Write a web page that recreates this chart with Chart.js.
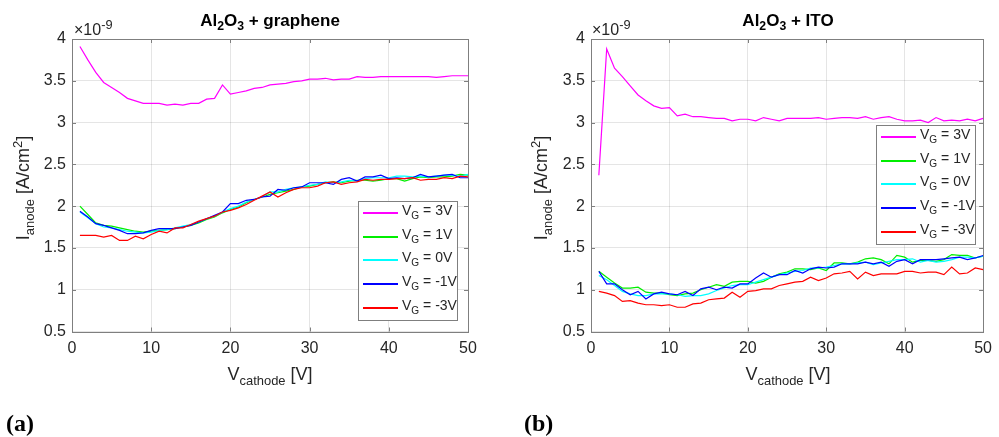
<!DOCTYPE html>
<html>
<head>
<meta charset="utf-8">
<script src="https://cdn.jsdelivr.net/npm/chart.js@4"></script>
<style>
  body { margin: 0; background: #fff; width: 999px; height: 437px; position: relative; overflow: hidden;
         font-family: "Liberation Sans", Arial, sans-serif; color: #262626; }
  .wrap { position: absolute; top: 0; height: 437px; }
  .lbl { position: absolute; white-space: nowrap; line-height: 1; }
  .lbl sub, .lbl sup { font-size: 0.72em; line-height: 0; }
  .title { font-weight: bold; font-size: 17px; color: #000; transform: translateX(-50%); }
  .xlab { font-size: 18px; transform: translateX(-50%); }
  .ylab { font-size: 18px; transform: translate(-50%, -50%) rotate(-90deg); }
  .exp { font-size: 16px; }
  .exp sup { font-size: 0.8em; }
  .panel { font-family: "Liberation Serif", "Times New Roman", serif; font-weight: bold; font-size: 24px; color: #000; }
  .legend { position: absolute; background: #fff; border: 1px solid #7f7f7f; box-sizing: border-box; }
  .legend .row { position: absolute; left: 0; height: 20px; }
  .legend .sample { position: absolute; left: 4px; width: 35px; top: 0; height: 1.5px; }
  .legend .txt { position: absolute; left: 43px; top: -9px; font-size: 14px; line-height: 1; white-space: nowrap; color: #262626; }
  .legend .txt sub { font-size: 0.72em; line-height: 0; }
</style>
</head>
<body>
<div class="wrap" id="wa" style="left:0;width:500px"><canvas id="chartA" width="500" height="437"></canvas></div>
<div class="wrap" id="wb" style="left:500px;width:499px"><canvas id="chartB" width="499" height="437"></canvas></div>

<div class="lbl title" style="left:270px;top:12px">Al<sub>2</sub>O<sub>3</sub> + graphene</div>
<div class="lbl title" style="left:788px;top:12px">Al<sub>2</sub>O<sub>3</sub> + ITO</div>
<div class="lbl exp" style="left:74px;top:22px">&times;10<sup>-9</sup></div>
<div class="lbl exp" style="left:592px;top:22px">&times;10<sup>-9</sup></div>
<div class="lbl xlab" style="left:270px;top:365px">V<sub>cathode</sub> [V]</div>
<div class="lbl xlab" style="left:788px;top:365px">V<sub>cathode</sub> [V]</div>
<div class="lbl ylab" style="left:23px;top:188px">I<sub>anode</sub> [A/cm<sup>2</sup>]</div>
<div class="lbl ylab" style="left:541px;top:188px">I<sub>anode</sub> [A/cm<sup>2</sup>]</div>
<div class="lbl panel" style="left:6px;top:411px">(a)</div>
<div class="lbl panel" style="left:524px;top:411px">(b)</div>
<div class="legend" id="legA" style="left:358px;top:201px;width:100px;height:120px"></div>
<div class="legend" id="legB" style="left:876px;top:125px;width:100px;height:120px"></div>

<script>
// x values: cathode voltage [V]
const vCathode = [1,2,3,4,5,6,7,8,9,10,11,12,13,14,15,16,17,18,19,20,
  21,22,23,24,25,26,27,28,29,30,31,32,33,34,35,36,37,38,39,40,
  41,42,43,44,45,46,47,48,49,50];

const seriesNames = ["3V", "1V", "0V", "-1V", "-3V"];
const seriesColors = ["#ff00ff", "#00ee00", "#00ffff", "#0000ff", "#ff0000"];

const xTicks = [0, 10, 20, 30, 40, 50];
const yTicks = [0.5, 1, 1.5, 2, 2.5, 3, 3.5, 4];

// (a) Al2O3 + graphene, I_anode in 1e-9 A/cm^2
const graphene3V = [3.91,3.75,3.60,3.48,3.42,3.36,3.29,3.26,3.23,3.23,
  3.23,3.21,3.22,3.21,3.23,3.23,3.28,3.29,3.45,3.34,
  3.36,3.38,3.41,3.42,3.45,3.46,3.47,3.49,3.50,3.52,
  3.52,3.53,3.51,3.52,3.52,3.55,3.54,3.54,3.55,3.55,
  3.55,3.55,3.55,3.55,3.55,3.54,3.55,3.56,3.56,3.56];
const graphene1V = [2.00,1.90,1.80,1.77,1.76,1.74,1.72,1.70,1.69,1.70,
  1.71,1.72,1.73,1.75,1.77,1.80,1.84,1.87,1.92,1.96,
  1.99,2.04,2.08,2.11,2.14,2.16,2.18,2.20,2.23,2.24,
  2.26,2.28,2.29,2.28,2.30,2.31,2.31,2.30,2.31,2.33,
  2.33,2.30,2.33,2.35,2.34,2.35,2.35,2.36,2.38,2.37];
const graphene0V = [1.93,1.86,1.79,1.75,1.74,1.72,1.70,1.69,1.68,1.69,
  1.71,1.72,1.74,1.76,1.78,1.81,1.85,1.88,1.93,1.97,
  2.00,2.05,2.08,2.11,2.17,2.17,2.20,2.22,2.23,2.25,
  2.26,2.29,2.28,2.29,2.31,2.30,2.33,2.34,2.34,2.34,
  2.36,2.36,2.35,2.36,2.35,2.36,2.37,2.37,2.36,2.38];
const grapheneM1V = [1.94,1.87,1.79,1.77,1.74,1.71,1.67,1.67,1.68,1.71,
  1.73,1.73,1.73,1.75,1.77,1.81,1.85,1.89,1.93,2.03,
  2.03,2.07,2.08,2.11,2.12,2.20,2.19,2.22,2.23,2.28,
  2.28,2.28,2.26,2.32,2.34,2.30,2.35,2.35,2.37,2.33,
  2.34,2.33,2.34,2.38,2.35,2.36,2.37,2.38,2.34,2.34];
const grapheneM3V = [1.65,1.65,1.65,1.63,1.65,1.59,1.59,1.64,1.61,1.66,
  1.70,1.68,1.74,1.74,1.78,1.82,1.85,1.88,1.93,1.95,
  1.98,2.02,2.07,2.12,2.17,2.11,2.16,2.20,2.22,2.22,
  2.24,2.28,2.29,2.26,2.28,2.29,2.32,2.31,2.32,2.32,
  2.33,2.33,2.34,2.31,2.32,2.32,2.34,2.33,2.36,2.35];

// (b) Al2O3 + ITO
const ito3V = [2.37,3.88,3.65,3.55,3.44,3.33,3.26,3.20,3.17,3.18,
  3.08,3.10,3.07,3.07,3.06,3.05,3.05,3.02,3.04,3.04,
  3.02,3.06,3.04,3.02,3.05,3.05,3.05,3.05,3.06,3.04,
  3.05,3.06,3.06,3.05,3.07,3.04,3.06,3.07,3.04,3.02,
  3.02,3.03,3.00,3.06,3.02,3.03,3.02,3.04,3.02,3.05];
const ito1V = [1.22,1.15,1.08,1.02,1.02,1.03,0.97,0.96,0.96,0.94,
  0.93,0.95,0.96,1.00,1.03,1.06,1.04,1.09,1.10,1.10,
  1.08,1.10,1.15,1.19,1.21,1.25,1.25,1.24,1.26,1.23,
  1.32,1.32,1.31,1.33,1.37,1.38,1.36,1.31,1.41,1.39,
  1.33,1.35,1.35,1.34,1.36,1.42,1.41,1.41,1.38,1.40];
const ito0V = [1.17,1.12,1.05,0.98,0.95,0.93,0.93,0.95,0.95,0.95,
  0.94,0.92,0.93,0.93,0.95,0.99,1.02,1.05,1.06,1.06,
  1.09,1.12,1.15,1.18,1.20,1.22,1.23,1.26,1.26,1.27,
  1.29,1.31,1.31,1.32,1.33,1.30,1.32,1.34,1.36,1.36,
  1.37,1.33,1.35,1.33,1.34,1.36,1.39,1.39,1.38,1.40];
const itoM1V = [1.22,1.07,1.07,1.00,0.94,0.98,0.89,0.95,0.97,0.95,
  0.94,0.98,0.93,1.01,1.03,1.00,1.03,1.02,1.07,1.07,
  1.14,1.20,1.15,1.18,1.18,1.23,1.20,1.25,1.27,1.26,
  1.27,1.31,1.31,1.31,1.33,1.31,1.33,1.28,1.34,1.36,
  1.31,1.36,1.36,1.36,1.37,1.38,1.39,1.36,1.38,1.41];
const itoM3V = [0.98,0.96,0.93,0.86,0.87,0.84,0.82,0.82,0.81,0.82,
  0.79,0.79,0.83,0.84,0.88,0.89,0.90,0.97,0.91,0.98,
  0.99,1.01,1.01,1.05,1.07,1.09,1.10,1.15,1.11,1.14,
  1.19,1.20,1.22,1.13,1.21,1.17,1.19,1.19,1.19,1.22,
  1.22,1.20,1.21,1.21,1.18,1.27,1.19,1.20,1.26,1.24];

const grapheneData = [graphene3V, graphene1V, graphene0V, grapheneM1V, grapheneM3V];
const itoData = [ito3V, ito1V, ito0V, itoM1V, itoM3V];

// MATLAB-like box with inward ticks on all sides
const boxPlugin = {
  id: "box",
  afterDraw(chart) {
    const { ctx, chartArea: a, scales } = chart;
    ctx.save();
    ctx.strokeStyle = "#7f7f7f";
    ctx.lineWidth = 1;
    ctx.beginPath();
    scales.x.ticks.forEach((t) => {
      const px = Math.round(scales.x.getPixelForValue(t.value)) + 0.5;
      ctx.moveTo(px, a.bottom); ctx.lineTo(px, a.bottom - 4);
      ctx.moveTo(px, a.top); ctx.lineTo(px, a.top + 4);
    });
    scales.y.ticks.forEach((t) => {
      const py = Math.round(scales.y.getPixelForValue(t.value)) + 0.5;
      ctx.moveTo(a.left, py); ctx.lineTo(a.left + 4, py);
      ctx.moveTo(a.right, py); ctx.lineTo(a.right - 4, py);
    });
    ctx.stroke();
    ctx.strokeRect(Math.round(a.left) + 0.5, Math.round(a.top) + 0.5,
      Math.round(a.right - a.left), Math.round(a.bottom - a.top));
    ctx.restore();
  },
};

const makeChart = (canvasId, series, yWidth, padRight) => {
  const datasets = series.map((vals, i) => ({
    label: "V_G = " + seriesNames[i],
    data: vCathode.map((x, k) => ({ x, y: vals[k] })),
    borderColor: seriesColors[i],
    borderWidth: 1.2,
    pointRadius: 0,
    tension: 0,
    order: series.length - i,
  }));
  return new Chart(document.getElementById(canvasId), {
    type: "line",
    data: { datasets },
    plugins: [boxPlugin],
    options: {
      responsive: false,
      devicePixelRatio: 1,
      animation: false,
      layout: { padding: { left: 0, right: padRight, top: 39, bottom: 0 } },
      plugins: { legend: { display: false }, tooltip: { enabled: false } },
      scales: {
        x: {
          type: "linear",
          min: 0,
          max: 50,
          afterBuildTicks: (s) => { s.ticks = xTicks.map((v) => ({ value: v })); },
          afterFit: (s) => { s.height = 105.5; },
          ticks: { color: "#262626", font: { family: "Liberation Sans", size: 16 }, padding: 7,
                   callback: (v) => String(v) },
          grid: { color: "rgba(0,0,0,0.1)", drawTicks: false },
          border: { display: false },
        },
        y: {
          min: 0.5,
          max: 4,
          afterBuildTicks: (s) => { s.ticks = yTicks.map((v) => ({ value: v })); },
          afterFit: (s) => { s.width = yWidth; },
          ticks: { color: "#262626", font: { family: "Liberation Sans", size: 16 }, padding: 6,
                   callback: (v) => String(+v.toFixed(1)) },
          grid: { color: "rgba(0,0,0,0.1)", drawTicks: false },
          border: { display: false },
        },
      },
    },
  });
};

makeChart("chartA", grapheneData, 72, 32);
makeChart("chartB", itoData, 91, 12);

// legends inside the plot area
const buildLegend = (id) => {
  const box = document.getElementById(id);
  seriesNames.forEach((name, i) => {
    const row = document.createElement("div");
    row.className = "row";
    row.style.top = Math.round(10 + i * 23.7) + "px";
    row.innerHTML = '<div class="sample" style="background:' + seriesColors[i] + '"></div>' +
      '<div class="txt">V<sub>G</sub> = ' + name + "</div>";
    box.appendChild(row);
  });
};
buildLegend("legA");
buildLegend("legB");
</script>
</body>
</html>
